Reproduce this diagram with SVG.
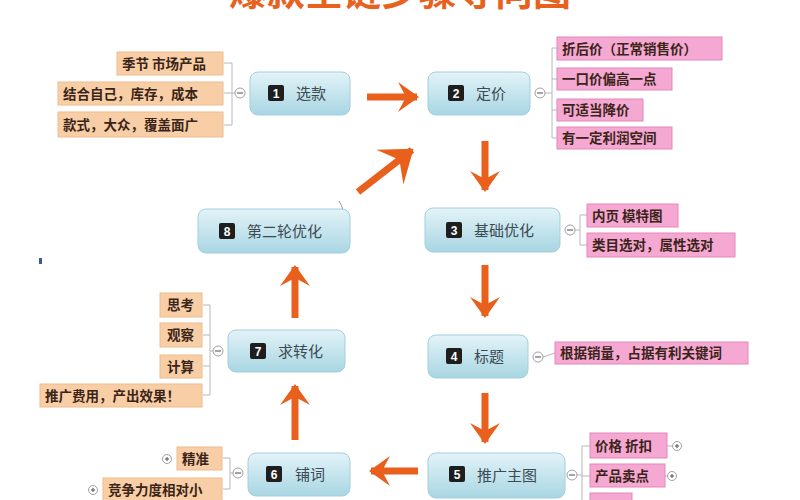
<svg xmlns="http://www.w3.org/2000/svg" width="800" height="500" viewBox="0 0 800 500">
<defs>
<linearGradient id="gNode" x1="0" y1="0" x2="0" y2="1">
<stop offset="0" stop-color="#e3f3f8"/>
<stop offset="1" stop-color="#a8d6e3"/>
</linearGradient>
<marker id="ah" viewBox="-20 -16 23 32" refX="0" refY="0" markerWidth="23" markerHeight="32" markerUnits="userSpaceOnUse" orient="auto">
<path d="M2,0 L-19,-15 L-11,0 L-19,15 Z" fill="#e8601c"/>
</marker>
<marker id="ahBig" viewBox="-30 -24 33 48" refX="0" refY="0" markerWidth="33" markerHeight="48" markerUnits="userSpaceOnUse" orient="auto">
<path d="M2,0 L-28,-22 L-16,0 L-28,22 Z" fill="#e8601c"/>
</marker>
</defs>
<style>
text{font-family:"Noto Sans CJK SC","Liberation Sans",sans-serif;}
.node rect.box{fill:url(#gNode);stroke:#a3cfdc;stroke-width:1;}
.node .lbl{font-size:15px;fill:#3c4a52;}
.badge{fill:#1e1e1e;}
.num{font-size:12px;font-weight:bold;fill:#fff;text-anchor:middle;font-family:"Liberation Sans",sans-serif;}
.o rect{fill:#f8cea6;stroke:#f0bc8c;stroke-width:1;}
.p rect{fill:#f5a8d2;stroke:#e487bb;stroke-width:1;}
.it{font-size:13.5px;font-weight:bold;fill:#3a2418;}
.br{fill:none;stroke:#b8b8b8;stroke-width:1;}
.cc{fill:#fff;stroke:#a0a0a0;stroke-width:1;}
.cm{stroke:#666;stroke-width:1.2;}
.arr{stroke:#e8601c;stroke-width:7;fill:none;}
</style>
<rect width="800" height="500" fill="#ffffff"/>
<text x="400" y="5" text-anchor="middle" font-size="38" font-weight="bold" fill="#e8621e">爆款全链步骤导向图</text>

<g id="connectors">
<line class="arr" x1="367" y1="97" x2="417" y2="97" marker-end="url(#ah)"/>
<line class="arr" x1="358" y1="192" x2="412" y2="150" stroke-width="13" marker-end="url(#ahBig)"/>
<line class="arr" x1="485" y1="141" x2="485" y2="190" marker-end="url(#ah)"/>
<line class="arr" x1="485" y1="265" x2="485" y2="316" marker-end="url(#ah)"/>
<line class="arr" x1="485" y1="393" x2="485" y2="442" marker-end="url(#ah)"/>
<line class="arr" x1="418" y1="471" x2="371" y2="471" marker-end="url(#ah)"/>
<line class="arr" x1="295" y1="440" x2="295" y2="386" marker-end="url(#ah)"/>
<line class="arr" x1="295" y1="318" x2="295" y2="267" marker-end="url(#ah)"/>
<path d="M339,201 Q345,210 344,222" fill="none" stroke="#9a9a9a" stroke-width="1"/>
<!-- brackets -->
<path class="br" d="M224,63 H232 V125 H224 M224,93 H235"/>
<path class="br" d="M560,48 H552 V138 H560 M552,79 H560 M552,110 H560 M545,93 H552"/>
<path class="br" d="M587,215 H580 V245 H587 M575,230 H580"/>
<path class="br" d="M543,357 L555,353"/>
<path class="br" d="M203,305 H210 V395 H203 M203,335 H210 M203,366 H210 M210,351 H213"/>
<path class="br" d="M223,458 H230 V489 H223 M230,473 H233"/>
<path class="br" d="M590,446 H582 V500 M582,476 H590 M577,475 H582"/>
<path class="br" d="M667,446 H672 M665,476 H667"/>
</g>

<g id="n1" class="node">
<rect class="box" x="250" y="72" width="100" height="43" rx="8"/>
<rect class="badge" x="268" y="85" width="16" height="16" rx="2"/>
<text class="num" x="276" y="98">1</text>
<text class="lbl" x="296" y="99">选款</text>
</g>
<g id="n1-items" class="o">
<rect x="117" y="52" width="106" height="23"/>
<text class="it" x="122" y="69">季节 市场产品</text>
<rect x="58" y="82" width="165" height="23"/>
<text class="it" x="63" y="99">结合自己，库存，成本</text>
<rect x="58" y="112" width="165" height="25"/>
<text class="it" x="63" y="130">款式，大众，覆盖面广</text>
<circle class="cc" cx="240" cy="93" r="5"/><line class="cm" x1="237" y1="93" x2="243" y2="93"/>
</g>

<g id="n2" class="node">
<rect class="box" x="428" y="72" width="102" height="43" rx="8"/>
<rect class="badge" x="448" y="85" width="16" height="16" rx="2"/>
<text class="num" x="456" y="98">2</text>
<text class="lbl" x="476" y="99">定价</text>
</g>
<g id="n2-items" class="p">
<rect x="557" y="37" width="165" height="23"/>
<text class="it" x="562" y="54">折后价（正常销售价）</text>
<rect x="557" y="68" width="115" height="22"/>
<text class="it" x="562" y="84">一口价偏高一点</text>
<rect x="557" y="99" width="86" height="22"/>
<text class="it" x="562" y="115">可适当降价</text>
<rect x="557" y="127" width="115" height="22"/>
<text class="it" x="562" y="143">有一定利润空间</text>
<circle class="cc" cx="540" cy="93" r="5"/><line class="cm" x1="537" y1="93" x2="543" y2="93"/>
</g>

<g id="n3" class="node">
<rect class="box" x="425" y="208" width="135" height="44" rx="8"/>
<rect class="badge" x="446" y="222" width="16" height="16" rx="2"/>
<text class="num" x="454" y="235">3</text>
<text class="lbl" x="474" y="236">基础优化</text>
</g>
<g id="n3-items" class="p">
<rect x="587" y="204" width="91" height="23"/>
<text class="it" x="592" y="221">内页 模特图</text>
<rect x="587" y="233" width="148" height="24"/>
<text class="it" x="592" y="250">类目选对，属性选对</text>
<circle class="cc" cx="570" cy="230" r="5"/><line class="cm" x1="567" y1="230" x2="573" y2="230"/>
</g>

<g id="n4" class="node">
<rect class="box" x="428" y="335" width="100" height="43" rx="8"/>
<rect class="badge" x="446" y="348" width="16" height="16" rx="2"/>
<text class="num" x="454" y="361">4</text>
<text class="lbl" x="474" y="362">标题</text>
</g>
<g id="n4-items" class="p">
<rect x="555" y="342" width="193" height="22"/>
<text class="it" x="560" y="358">根据销量，占据有利关键词</text>
<circle class="cc" cx="538" cy="357" r="5"/><line class="cm" x1="535" y1="357" x2="541" y2="357"/>
</g>

<g id="n5" class="node">
<rect class="box" x="428" y="453" width="137" height="45" rx="8"/>
<rect class="badge" x="449" y="466" width="16" height="16" rx="2"/>
<text class="num" x="457" y="479">5</text>
<text class="lbl" x="477" y="481">推广主图</text>
</g>
<g id="n5-items" class="p">
<rect x="590" y="433" width="77" height="25"/>
<text class="it" x="595" y="451">价格 折扣</text>
<rect x="590" y="464" width="75" height="23"/>
<text class="it" x="595" y="481">产品卖点</text>
<rect x="590" y="493" width="42" height="10"/>
<circle class="cc" cx="572" cy="475" r="5"/><line class="cm" x1="569" y1="475" x2="575" y2="475"/>
<circle class="cc" cx="677" cy="446" r="4.5"/><line class="cm" x1="675" y1="446" x2="679" y2="446"/><line class="cm" x1="677" y1="444" x2="677" y2="448"/>
<circle class="cc" cx="672" cy="476" r="4.5"/><line class="cm" x1="670" y1="476" x2="674" y2="476"/><line class="cm" x1="672" y1="474" x2="672" y2="478"/>
</g>

<g id="n6" class="node">
<rect class="box" x="248" y="453" width="102" height="43" rx="8"/>
<rect class="badge" x="266" y="466" width="16" height="16" rx="2"/>
<text class="num" x="274" y="479">6</text>
<text class="lbl" x="295" y="480">铺词</text>
</g>
<g id="n6-items" class="o">
<rect x="177" y="447" width="45" height="23"/>
<text class="it" x="182" y="464">精准</text>
<rect x="103" y="478" width="119" height="23"/>
<text class="it" x="108" y="495">竞争力度相对小</text>
<circle class="cc" cx="238" cy="473" r="5"/><line class="cm" x1="235" y1="473" x2="241" y2="473"/>
<circle class="cc" cx="167" cy="459" r="4.5"/><line class="cm" x1="165" y1="459" x2="169" y2="459"/><line class="cm" x1="167" y1="457" x2="167" y2="461"/>
<circle class="cc" cx="93" cy="490" r="4.5"/><line class="cm" x1="91" y1="490" x2="95" y2="490"/><line class="cm" x1="93" y1="488" x2="93" y2="492"/>
</g>

<g id="n7" class="node">
<rect class="box" x="228" y="330" width="117" height="42" rx="8"/>
<rect class="badge" x="250" y="343" width="16" height="16" rx="2"/>
<text class="num" x="258" y="356">7</text>
<text class="lbl" x="278" y="357">求转化</text>
</g>
<g id="n7-items" class="o">
<rect x="160" y="293" width="42" height="24"/>
<text class="it" x="167" y="310">思考</text>
<rect x="160" y="323" width="42" height="24"/>
<text class="it" x="167" y="340">观察</text>
<rect x="160" y="355" width="42" height="23"/>
<text class="it" x="167" y="372">计算</text>
<rect x="40" y="384" width="162" height="23"/>
<text class="it" x="45" y="401">推广费用，产出效果！</text>
<circle class="cc" cx="218" cy="351" r="5"/><line class="cm" x1="215" y1="351" x2="221" y2="351"/>
</g>

<g id="n8" class="node">
<rect class="box" x="198" y="209" width="152" height="44" rx="8"/>
<rect class="badge" x="219" y="223" width="16" height="16" rx="2"/>
<text class="num" x="227" y="236">8</text>
<text class="lbl" x="247" y="237">第二轮优化</text>
</g>
<rect x="39" y="258" width="3" height="6" fill="#3a5a9a"/>
</svg>
